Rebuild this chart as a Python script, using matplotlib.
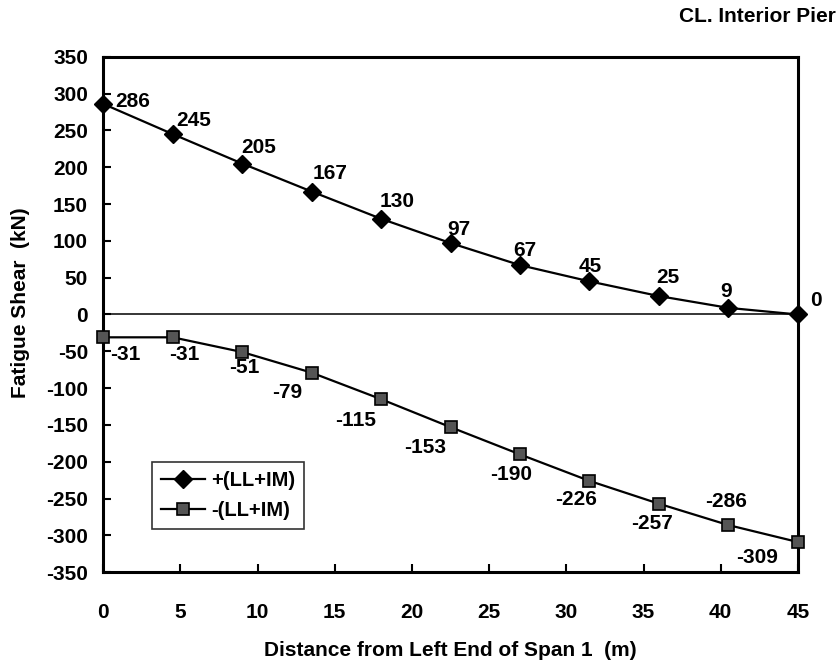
import matplotlib
matplotlib.use('Agg')
import matplotlib.pyplot as plt

# datos
dist = [0, 4.5, 9, 13.5, 18, 22.5, 27, 31.5, 36, 40.5, 45]
cortante_pos = [286, 245, 205, 167, 130, 97, 67, 45, 25, 9, 0]
cortante_neg = [-31, -31, -51, -79, -115, -153, -190, -226, -257, -286, -309]

# desplazamiento de las etiquetas (pixeles)
off_pos = [(29, 2), (21, 14), (17, 16), (18, 18), (16, 17), (8, 14),
           (5, 15), (1, 15), (9, 19), (-2, 16), (18, 14)]
off_neg = [(22, -17), (12, -17), (2, -15), (-24, -20), (-25, -21), (-25, -20),
           (-9, -20), (-13, -19), (-7, -20), (-2, 24), (-41, -15)]

plt.rcParams['font.family'] = ['Liberation Sans', 'DejaVu Sans']
plt.rcParams['font.weight'] = 'bold'
plt.rcParams['axes.unicode_minus'] = False

fig = plt.figure(figsize=(8.39, 6.6), dpi=100)
ax = fig.add_axes([0.123, 0.133, 0.828, 0.781])

ax.axhline(0, color='black', lw=1.1, zorder=1)

ax.plot(dist, cortante_pos, color='black', lw=1.6, marker='D', ms=9,
        mfc='black', mec='black', label='+(LL+IM)', clip_on=False, zorder=3)
ax.plot(dist, cortante_neg, color='black', lw=1.6, marker='s', ms=9,
        mfc='#555555', mec='black', mew=1.2, label='-(LL+IM)', clip_on=False, zorder=3)

for x, y, o in zip(dist, cortante_pos, off_pos):
    ax.annotate(str(y), (x, y), xytext=o, textcoords='offset pixels',
                ha='center', va='center', fontsize=15, fontweight='bold')
for x, y, o in zip(dist, cortante_neg, off_neg):
    ax.annotate(str(y), (x, y), xytext=o, textcoords='offset pixels',
                ha='center', va='center', fontsize=15, fontweight='bold')

ax.set_xlim(0, 45)
ax.set_ylim(-350, 350)
ax.set_xticks(range(0, 50, 5))
ax.set_yticks(range(-350, 400, 50))
ax.tick_params(axis='both', direction='in', length=6, width=1.5, labelsize=15)
ax.tick_params(axis='x', pad=22)
ax.tick_params(axis='y', pad=11)
for lab in ax.get_xticklabels() + ax.get_yticklabels():
    lab.set_fontweight('bold')
for s in ax.spines.values():
    s.set_linewidth(2.2)

ax.set_xlabel('Distance from Left End of Span 1  (m)', fontsize=15, fontweight='bold', labelpad=14)
fig.text(0.025, 0.542, 'Fatigue Shear  (kN)', rotation=90, ha='center', va='center',
         fontsize=15, fontweight='bold')
fig.text(0.996, 0.975, 'CL. Interior Pier', ha='right', va='center',
         fontsize=15, fontweight='bold')

leg = ax.legend(loc='lower left', bbox_to_anchor=(0.07, 0.083), borderaxespad=0,
                fontsize=14.5, frameon=True, fancybox=False, edgecolor='black',
                handlelength=2.2, borderpad=0.45, labelspacing=0.55, handletextpad=0.3)
leg.get_frame().set_linewidth(1.2)
for t in leg.get_texts():
    t.set_fontweight('bold')

fig.savefig('out.png')
